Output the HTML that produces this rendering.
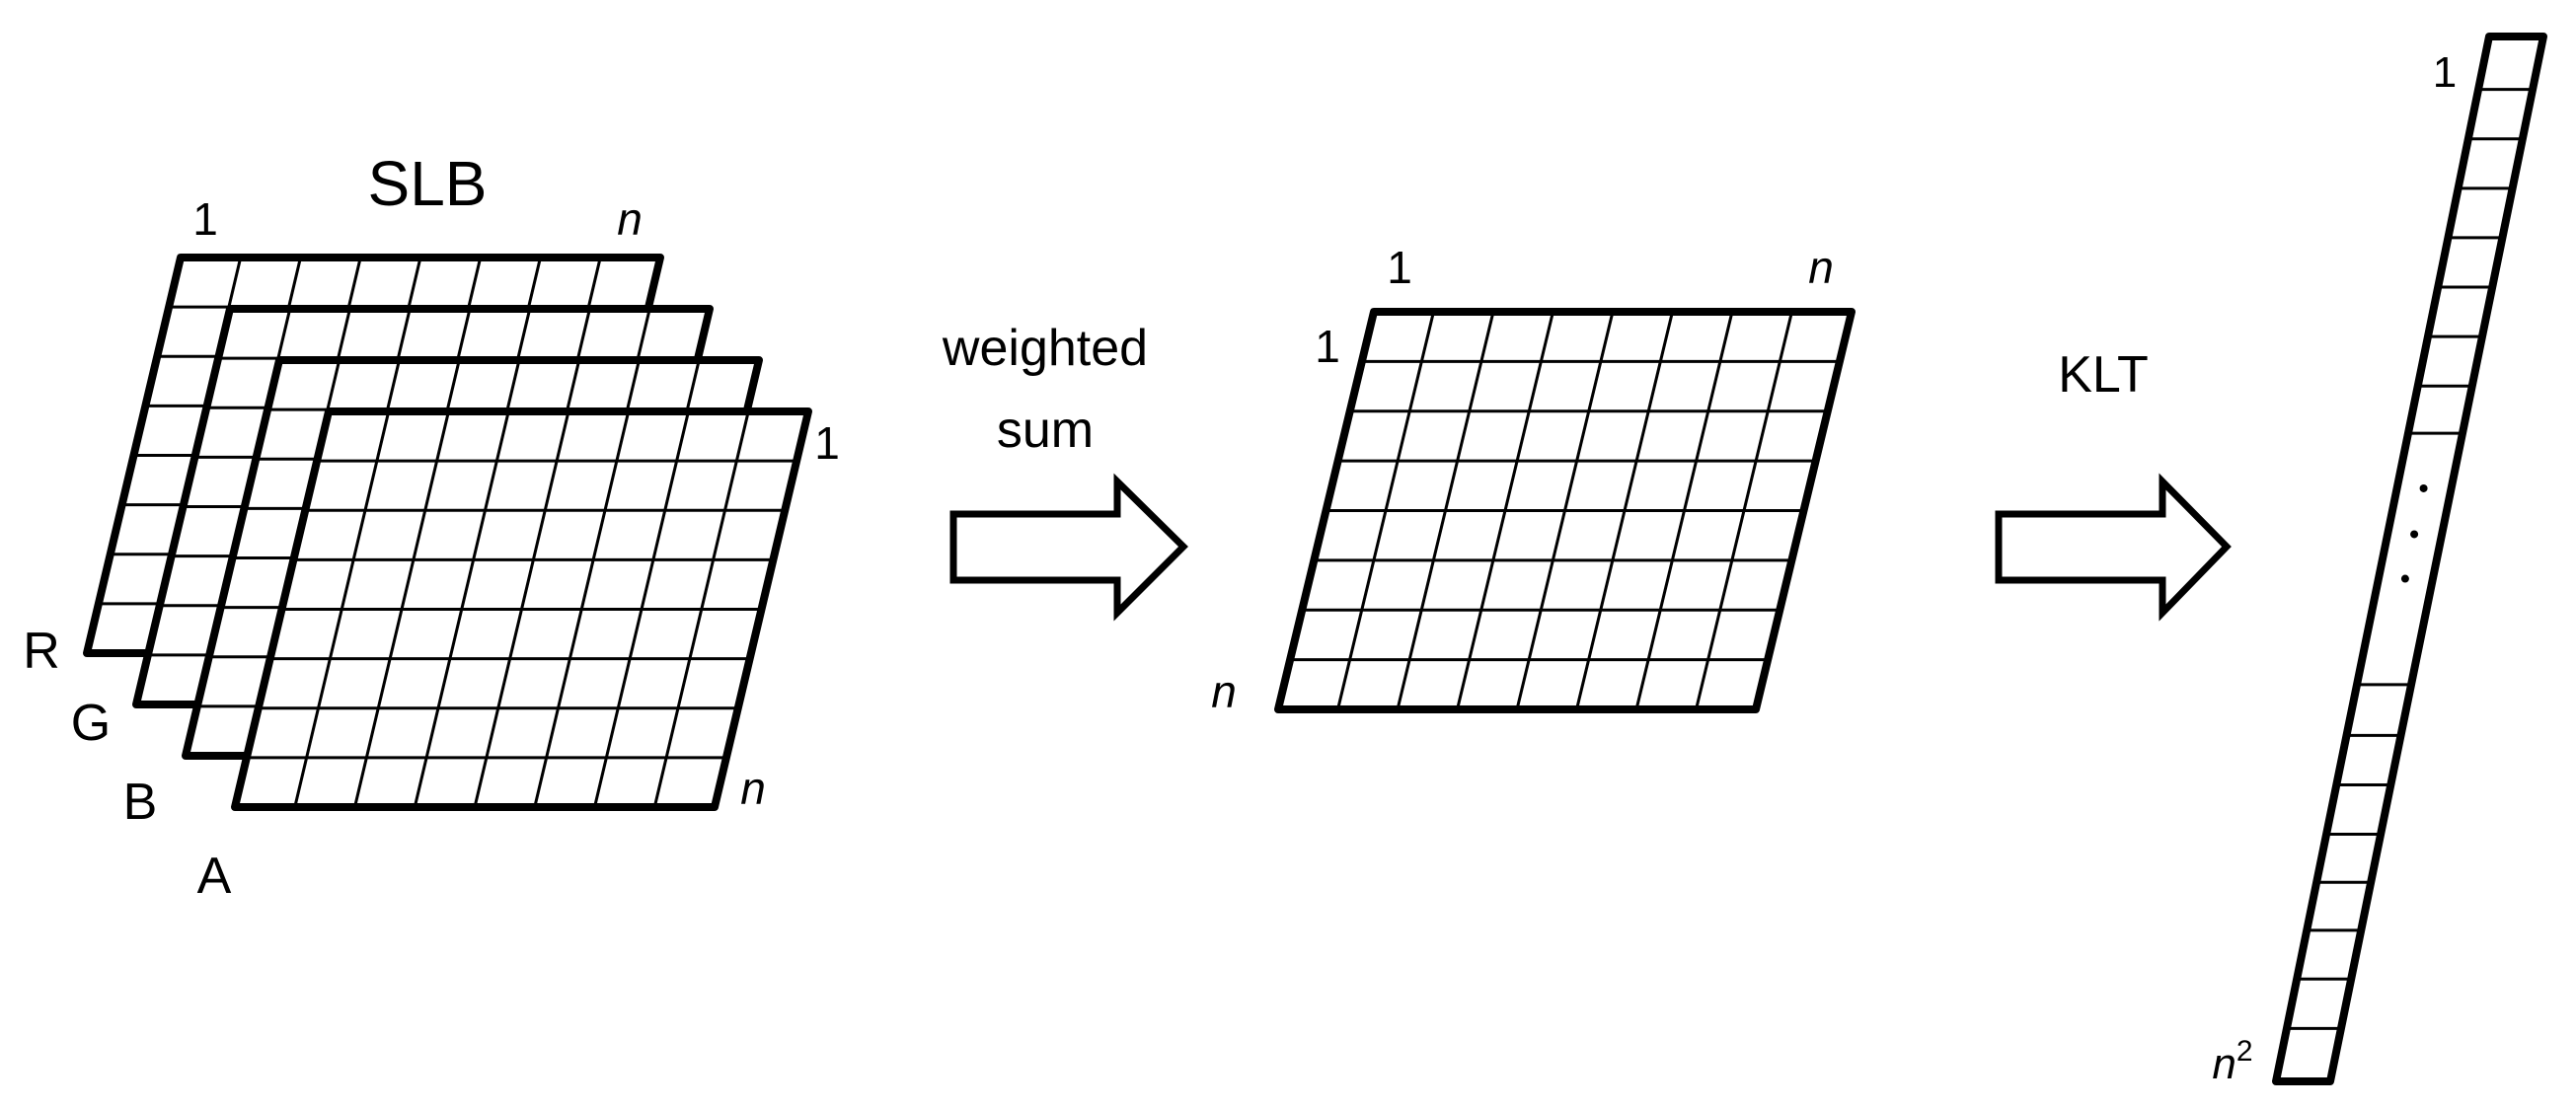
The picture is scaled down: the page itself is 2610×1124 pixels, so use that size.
<!DOCTYPE html>
<html><head><meta charset="utf-8"><style>
html,body{margin:0;padding:0;background:#fff;width:2610px;height:1124px;overflow:hidden}
svg text{font-family:"Liberation Sans",sans-serif;fill:#000}
</style></head><body>
<svg id="s" width="2610" height="1124" xmlns="http://www.w3.org/2000/svg">
<g id="g"></g>
<text x="433" y="208" font-size="64" text-anchor="middle">SLB</text>
<text x="208" y="238" font-size="46" text-anchor="middle">1</text>
<text x="638" y="238" font-size="46" text-anchor="middle" font-style="italic">n</text>
<text x="838" y="465" font-size="46" text-anchor="middle">1</text>
<text x="763" y="815" font-size="46" text-anchor="middle" font-style="italic">n</text>
<text x="42" y="677" font-size="52" text-anchor="middle">R</text>
<text x="92" y="750" font-size="52" text-anchor="middle">G</text>
<text x="142" y="830" font-size="52" text-anchor="middle">B</text>
<text x="217" y="905" font-size="52" text-anchor="middle">A</text>
<text x="1418" y="287" font-size="46" text-anchor="middle">1</text>
<text x="1845" y="287" font-size="46" text-anchor="middle" font-style="italic">n</text>
<text x="1345" y="367" font-size="46" text-anchor="middle">1</text>
<text x="1240" y="717" font-size="46" text-anchor="middle" font-style="italic">n</text>
<text x="1059" y="370" font-size="52" text-anchor="middle">weighted</text>
<text x="1059" y="453" font-size="52" text-anchor="middle">sum</text>
<text x="2131" y="397" font-size="52" text-anchor="middle">KLT</text>
<text x="2477" y="88" font-size="44" text-anchor="middle">1</text>
<text x="2262" y="1093" font-size="44" text-anchor="middle" font-style="italic">n<tspan dy="-18" font-size="30" font-style="normal">2</tspan></text>
<polygon points="966,521 1132,521 1132,488 1199,554 1132,621 1132,588 966,588" fill="#fff" stroke="#000" stroke-width="7" stroke-linejoin="miter"/>
<polygon points="2025,521 2191,521 2191,488 2256,554 2191,621 2191,588 2025,588" fill="#fff" stroke="#000" stroke-width="7" stroke-linejoin="miter"/>
</svg>
<script>
(function(){
var g=document.getElementById('g'),NS='http://www.w3.org/2000/svg';
function el(t,a){var e=document.createElementNS(NS,t);for(var k in a)e.setAttribute(k,a[k]);g.appendChild(e);return e;}
function grid(tlx,tly,w,h,skew,n){
 var p=[[tlx,tly],[tlx+w,tly],[tlx+w-skew,tly+h],[tlx-skew,tly+h]];
 el('polygon',{points:p.map(function(q){return q.join(',')}).join(' '),fill:'#fff',stroke:'none'});
 for(var i=1;i<n;i++){var t=i/n;
  var y=tly+h*t, x=tlx-skew*t;
  el('line',{x1:x,y1:y,x2:x+w,y2:y,stroke:'#000','stroke-width':3});
  var cx=tlx+w*t;
  el('line',{x1:cx,y1:tly,x2:cx-skew,y2:tly+h,stroke:'#000','stroke-width':3});
 }
 el('polygon',{points:p.map(function(q){return q.join(',')}).join(' '),fill:'none',stroke:'#000','stroke-width':8,'stroke-linejoin':'round'});
}
for(var L=0;L<4;L++) grid(183+50*L,261+52*L,486,401,95,8);
grid(1392,316,484,403,97,8);
var TLx=2522,TRx=2577,vtop=37,H=1059,dx=-216;
function vx(t){return TLx+dx*t;}
var pts=[[TLx,vtop],[TRx,vtop],[TRx+dx,vtop+H],[TLx+dx,vtop+H]];
el('polygon',{points:pts.map(function(q){return q.join(',')}).join(' '),fill:'#fff',stroke:'none'});
[125,195,265,335,405,475,545,612,968,1040,1110,1180,1248,1316,1385,1455].forEach(function(z){
 var t=(z-50)/1480,y=vtop+H*t;
 el('line',{x1:vx(t),y1:y,x2:vx(t)+55,y2:y,stroke:'#000','stroke-width':3});
});
[690,755,818].forEach(function(z){var t=(z-50)/1480;el('circle',{cx:vx(t)+27,cy:vtop+H*t,r:4,fill:'#000'});});
el('polygon',{points:pts.map(function(q){return q.join(',')}).join(' '),fill:'none',stroke:'#000','stroke-width':8,'stroke-linejoin':'round'});
})();
</script>
</body></html>
